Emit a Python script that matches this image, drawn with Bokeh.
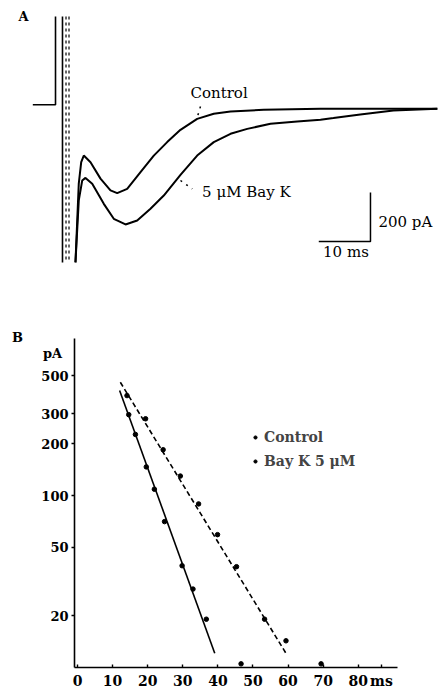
import numpy as np
from bokeh.plotting import figure
from bokeh.models import Label, Range1d, FixedTicker, Legend, LegendItem
from bokeh.embed import file_html
from bokeh.resources import INLINE

FONT = "DejaVu Serif"

# ---------------- Panel A data (time in ms, current in pA) ----------------
control_t = [2.51, 3.15, 3.62, 4.12, 5.42, 7.35, 9.28, 10.58, 12.51, 15.09, 17.66,
             20.25, 22.82, 26.05, 29.26, 32.5, 38.9, 49.9, 72.5]
control_pA = [-627, -305, -218, -191, -218, -285, -333, -344, -327, -259, -191,
              -136, -86, -41, -20, -11, -4, 0, 0]
bayk_t = [2.51, 3.15, 3.81, 4.45, 5.75, 7.99, 9.92, 12.19, 14.45, 17.02, 19.59,
          22.82, 26.05, 29.26, 32.5, 35.73, 40.23, 45.4, 49.9, 52.4, 57.6, 64.0, 72.5]
bayk_pA = [-627, -374, -293, -282, -306, -388, -449, -472, -456, -408, -354,
           -270, -191, -136, -102, -82, -61, -52, -45, -38, -23, -7, 0]
step_t = [-5.74, -1.35, -1.35]
step_pA = [16.3, 16.3, 377]
transient_t = [0.0, 0.68, 1.26]
transient_top = 377
transient_bottom = -627
scale_ms = 10
scale_pA = 200

# ---------------- Panel B data ----------------
ctrl_ms = [14.6, 16.5, 19.6, 21.9, 24.8, 29.8, 32.9, 36.7, 46.6]
ctrl_val = [296, 227, 147, 109, 70.6, 39.1, 28.6, 19.1, 10.5]
bay_ms = [14.1, 19.4, 24.4, 29.3, 34.5, 39.9, 45.3, 53.3, 59.4, 69.4]
bay_val = [382, 280, 185, 130, 89.5, 59.3, 38.6, 19.1, 14.3, 10.5]
fit_ctrl_ms = [12.0, 39.1]
fit_ctrl_val = [409, 12.1]
fit_bay_ms = [12.2, 59.5]
fit_bay_val = [457, 12.0]
x_ticks = [0, 10, 20, 30, 40, 50, 60, 70, 80]
x_unit_pos = 86.6
y_ticks = [20, 50, 100, 200, 300, 500]

# ================= Panel A =================
pa = figure(width=442, height=365, output_backend="svg", toolbar_location=None,
            x_range=Range1d(-11.99, 73.5), y_range=Range1d(-1047.8, 442.0),
            min_border=0)
pa.axis.visible = False
pa.grid.visible = False
pa.outline_line_color = None

pa.line(control_t, control_pA, line_color="black", line_width=2)
pa.line(bayk_t, bayk_pA, line_color="black", line_width=2)
pa.line(step_t, step_pA, line_color="black", line_width=1.6)
pa.segment(x0=transient_t[:1], y0=[transient_top], x1=transient_t[:1], y1=[transient_bottom],
           line_color="black", line_width=1.6)
pa.segment(x0=transient_t[1:], y0=[transient_top] * 2, x1=transient_t[1:], y1=[transient_bottom] * 2,
           line_color="black", line_width=1.2, line_dash="3 3")

# pointers
pa.segment(x0=[26.69, 22.82], y0=[9.4, -292.7], x1=[26.0, 25.1], y1=[-39.6, -327],
           line_color="black", line_width=1.5, line_dash="2 5")

# scale bar
sb_t, sb_I = 49.57, -541.6
pa.line([sb_t, sb_t + scale_ms, sb_t + scale_ms], [sb_I, sb_I, sb_I + scale_pA],
        line_color="black", line_width=1.5)

def lab(p, x, y, text, size, bold=False, align="left", baseline="middle"):
    p.add_layout(Label(x=x, y=y, text=text, text_font=FONT, text_font_size=size,
                       text_font_style="bold" if bold else "normal",
                       text_align=align, text_baseline=baseline, text_color="black"))

lab(pa, -7.54, 376.7, "A", "13px", bold=True, align="center")
lab(pa, 24.76, 64.5, "Control", "15px")
lab(pa, 27.0, -340.4, "5 \u03bcM  Bay K", "15px")
lab(pa, 61.1, -462.9, "200 pA", "15px")
lab(pa, 50.4, -585.0, "10 ms", "15px")
# panel B letter and y-unit sit in the strip shared with panel B
lab(pa, -8.70, -933.5, "B", "13px", bold=True, align="center")
lab(pa, -1.93, -998.8, "pA", "13px", bold=True, align="center")

# ================= Panel B =================
pb = figure(width=442, height=394, output_backend="svg", toolbar_location=None,
            y_axis_type="log", x_range=Range1d(-0.855, 91.17), y_range=Range1d(10, 821),
            min_border_left=74, min_border_right=45, min_border_top=40, min_border_bottom=25,
            margin=(-67, 0, 0, 0))
pb.grid.visible = False
pb.outline_line_color = None
pb.background_fill_alpha = 0
pb.border_fill_alpha = 0

pb.line(fit_ctrl_ms, fit_ctrl_val, line_color="black", line_width=1.6)
pb.line(fit_bay_ms, fit_bay_val, line_color="black", line_width=1.6, line_dash="5 3")
r_ctrl = pb.scatter(ctrl_ms, ctrl_val, size=4.5, color="black")
r_bay = pb.scatter(bay_ms, bay_val, size=4.5, color="black")

pb.xaxis.ticker = FixedTicker(ticks=x_ticks + [x_unit_pos])
pb.xaxis.major_label_overrides = {x_unit_pos: "ms"}
pb.yaxis.ticker = FixedTicker(ticks=y_ticks)
pb.yaxis.major_label_overrides = {v: str(v) for v in y_ticks}
for ax in (pb.xaxis, pb.yaxis):
    ax.axis_line_width = 1.6
    ax.major_tick_line_width = 1.4
    ax.minor_tick_line_color = None
    ax.major_label_text_font = FONT
    ax.major_label_text_font_style = "bold"
    ax.major_label_text_color = "black"
pb.xaxis.major_tick_in = 3
pb.xaxis.major_tick_out = 0
pb.xaxis.major_label_standoff = 5
pb.xaxis.major_label_text_font_size = "14px"
pb.yaxis.major_tick_in = 0
pb.yaxis.major_tick_out = 3
pb.yaxis.major_label_standoff = 3
pb.yaxis.major_label_text_font_size = "13px"

legend = Legend(items=[LegendItem(label="Control", renderers=[r_ctrl]),
                       LegendItem(label="Bay K 5 \u03bcM", renderers=[r_bay])],
                location=(177, 196), glyph_width=8, glyph_height=20, label_standoff=5,
                label_height=20, spacing=4, padding=0, margin=0,
                border_line_alpha=0, background_fill_alpha=0,
                label_text_font=FONT, label_text_font_size="14px",
                label_text_font_style="bold")
pb.add_layout(legend)

open("out.html", "w").write(file_html([pa, pb], INLINE))
